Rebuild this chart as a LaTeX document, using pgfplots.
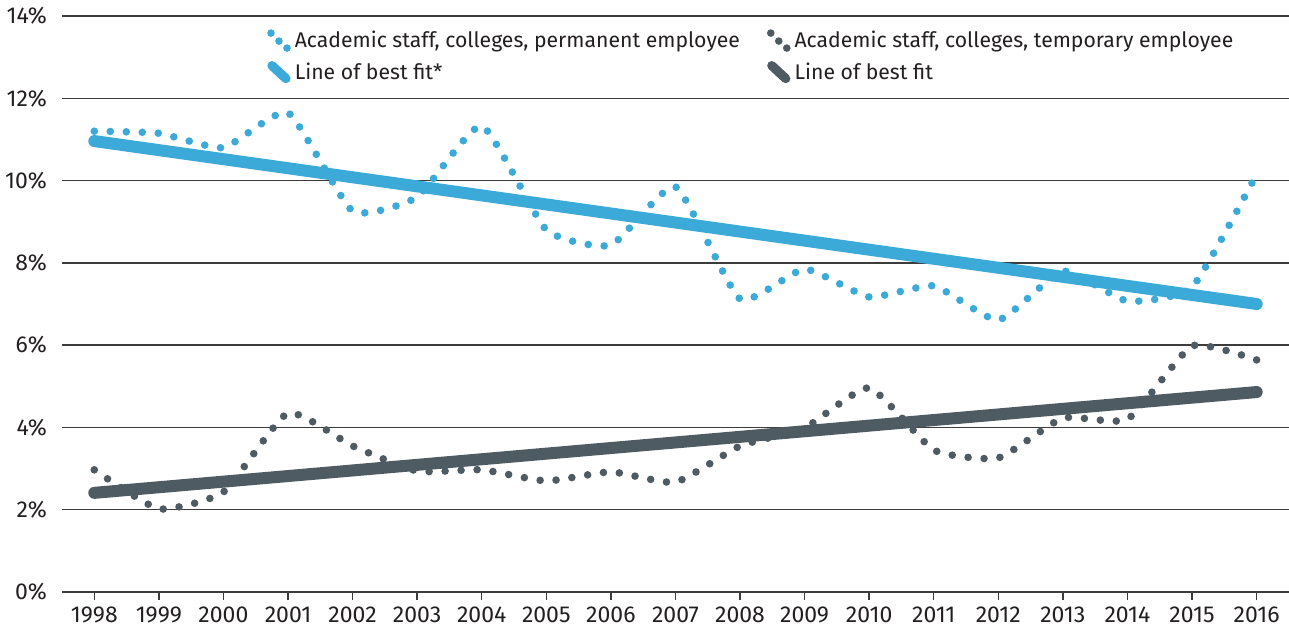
\documentclass[border=0pt]{standalone}
\usepackage{pgfplots}
\pgfplotsset{compat=1.18}
\usepackage{fontspec}
\setmainfont{Fira Sans}
\definecolor{cblue}{RGB}{59,170,216}
\definecolor{cgray}{RGB}{78,91,99}
\definecolor{ctext}{RGB}{35,31,32}
\definecolor{cgrid}{RGB}{60,60,60}
\begin{document}
\begin{tikzpicture}
\begin{axis}[
  name=ax,
  scale only axis,
  width=613.5pt, height=288pt,
  xmin=1997.5, xmax=2016.5,
  ymin=0, ymax=14,
  axis y line*=left,
  y axis line style={draw=none},
  axis x line*=bottom,
  x axis line style={draw=cgrid, line width=0.75pt, -},
  xtick={1998,...,2016},
  xticklabel style={/pgf/number format/1000 sep={}},
  x tick label style={font=\fontsize{11.5}{13}\selectfont, text=ctext},
  ytick={0,2,...,14},
  yticklabel={\pgfmathprintnumber{\tick}\%},
  y tick label style={font=\fontsize{11.5}{13}\selectfont, text=ctext},
  /pgf/number format/assume math mode=true,
  ymajorgrids,
  grid style={draw=cgrid, line width=0.7pt},
  tick align=outside,
  x tick style={draw=cgrid, line width=0.7pt},
  major tick length=4pt,
  ytick style={draw=none},
  clip=false,
  legend columns=2,
  legend style={draw=none, fill=none, at={(0.162,0.988)}, anchor=north west,
    font=\fontsize{10.6}{13}\selectfont, text=ctext,
    /tikz/every even column/.append style={column sep=11.5pt},
    row sep=2pt},
  legend cell align=left,
]
\pgfplotsset{
  dotleg/.style={legend image code/.code={
    \fill[solid, draw=none, line width=0pt] (0.5pt,4pt) circle (1.9pt);
    \fill[solid, draw=none, line width=0pt] (4.5pt,0pt) circle (1.9pt);
    \fill[solid, draw=none, line width=0pt] (8.5pt,-3.5pt) circle (1.9pt);}},
  lineleg/.style={legend image code/.code={
    \draw[solid, line width=4.6pt, line cap=round] (1pt,3.5pt) -- (8pt,-3pt);}},
}
\addplot[cblue, smooth, tension=0.3, line width=3.8pt, line cap=round, dash pattern=on 0pt off 8pt, dotleg] coordinates {
(1998,11.2) (1999,11.15) (2000,10.8) (2001,11.65) (2002,9.26) (2003,9.6)
(2004,11.33) (2005,8.8) (2006,8.43) (2007,9.85) (2008,7.12) (2009,7.85)
(2010,7.17) (2011,7.44) (2012,6.61) (2013,7.8) (2014,7.07) (2015,7.41) (2016,10.16)};
\addlegendentry{Academic staff, colleges, permanent employee}
\addplot[cgray, smooth, tension=0.3, line width=3.8pt, line cap=round, dash pattern=on 0pt off 8pt, dotleg] coordinates {
(1998,2.97) (1999,2.02) (2000,2.43) (2001,4.35) (2002,3.55) (2003,2.94)
(2004,2.97) (2005,2.7) (2006,2.92) (2007,2.67) (2008,3.55) (2009,3.99)
(2010,4.96) (2011,3.45) (2012,3.26) (2013,4.23) (2014,4.2) (2015,5.98) (2016,5.64)};
\addlegendentry{Academic staff, colleges, temporary employee}
\addplot[cblue, line width=6pt, line cap=round, lineleg] coordinates {(1998,10.96) (2016,7.0)};
\addlegendentry{Line of best fit*}
\addplot[cgray, line width=6pt, line cap=round, lineleg] coordinates {(1998,2.41) (2016,4.86)};
\addlegendentry{Line of best fit}
\end{axis}
\pgfresetboundingbox
\path[use as bounding box] ([xshift=-31pt,yshift=-17pt]ax.south west) rectangle ([yshift=8pt]ax.north east);
\end{tikzpicture}
\end{document}
